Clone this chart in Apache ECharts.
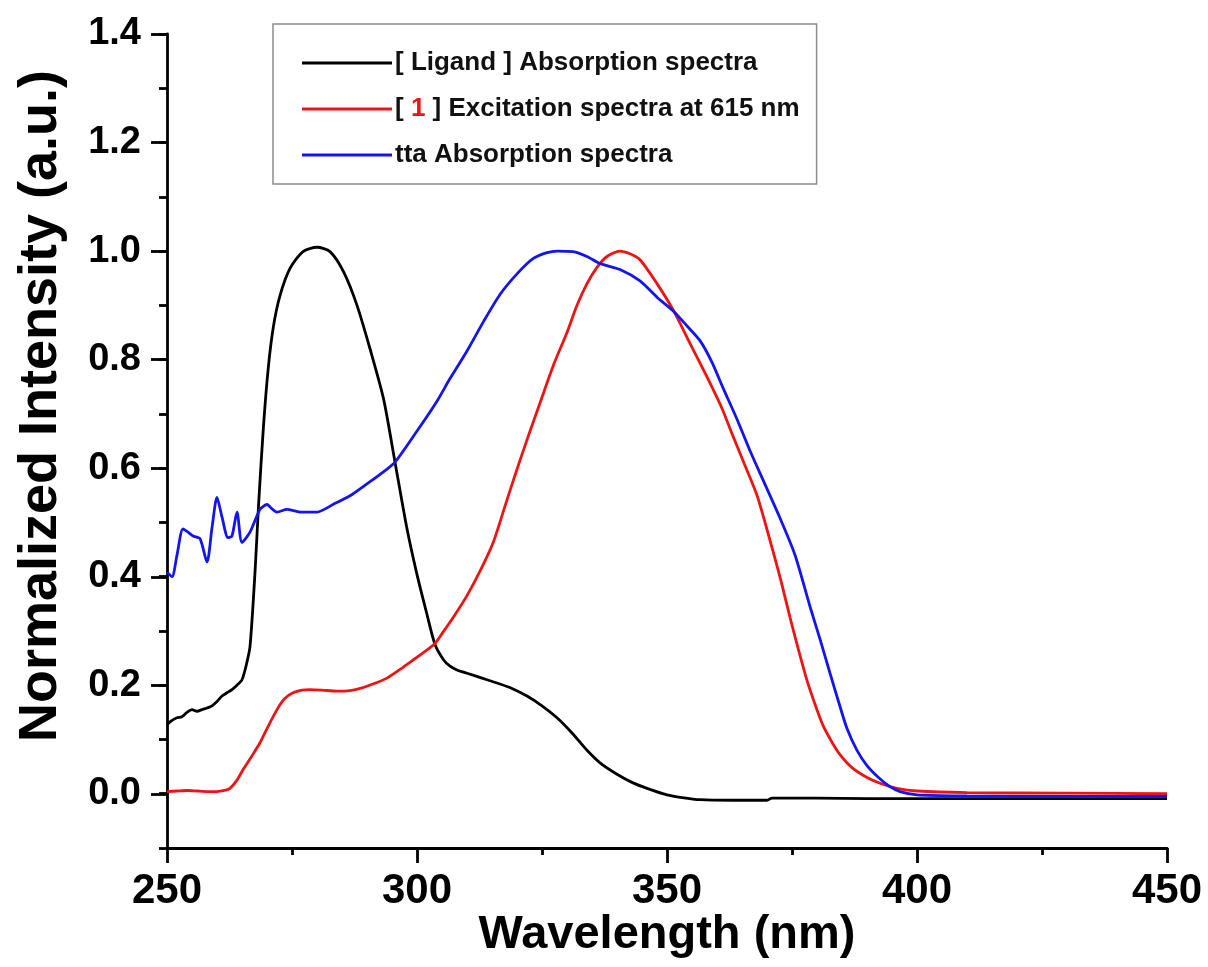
<!DOCTYPE html>
<html>
<head>
<meta charset="utf-8">
<script src="https://cdn.jsdelivr.net/npm/echarts@6/dist/echarts.min.js"></script>
<style>
  html, body { margin: 0; padding: 0; background: #ffffff; }
  #chart { width: 1208px; height: 967px; }
</style>
</head>
<body>
<div id="chart"></div>
<script>
// Wavelength (nm) and normalized intensity for each spectrum
const ligandWl = [250, 251, 252, 253, 254, 255, 256, 257, 258, 259, 260, 261, 262, 263, 264, 265, 265.8, 266.6, 267.6, 268.3, 269.3, 270.3, 271.3, 272.6, 274.6, 277.2, 280, 282.6, 285.3, 288, 290.6, 293.3, 295.6, 297.9, 299.9, 301.9, 303.6, 305.3, 306.6, 308, 310, 313, 316, 319, 322, 325, 328, 331, 334, 336.6, 340, 343.2, 346, 350, 353, 356.6, 363, 370, 371, 380, 390, 400, 420, 450];
const ligandAbs = [0.127, 0.135, 0.14, 0.142, 0.15, 0.155, 0.152, 0.155, 0.158, 0.162, 0.17, 0.18, 0.186, 0.192, 0.2, 0.21, 0.235, 0.271, 0.408, 0.53, 0.678, 0.789, 0.862, 0.918, 0.968, 0.999, 1.007, 0.999, 0.962, 0.9, 0.82, 0.728, 0.611, 0.493, 0.408, 0.334, 0.275, 0.247, 0.235, 0.228, 0.222, 0.213, 0.204, 0.194, 0.18, 0.162, 0.14, 0.112, 0.08, 0.057, 0.036, 0.02, 0.01, -0.002, -0.007, -0.011, -0.012, -0.012, -0.008, -0.008, -0.009, -0.009, -0.009, -0.009];

const exciteWl = [250, 252, 254, 256, 258, 260, 261.5, 262.6, 264, 265.2, 267, 268.6, 270, 272, 273.5, 275.2, 277, 278.6, 281, 284, 286.6, 289, 292, 294, 296.6, 299, 301, 303.6, 305, 307.6, 310, 312.6, 315.2, 317.6, 320, 322.3, 324.6, 327.3, 330, 332, 334, 336, 338, 340.6, 342.6, 344.6, 348, 351.2, 354.6, 358, 361, 363.2, 365.6, 368, 369.6, 371.2, 373, 374.6, 376.3, 378, 379.6, 381.2, 383, 384.6, 387, 390, 393, 396, 400, 410, 430, 450];
const exciteInt = [0.004, 0.005, 0.006, 0.005, 0.004, 0.004, 0.006, 0.01, 0.025, 0.044, 0.07, 0.094, 0.12, 0.155, 0.175, 0.186, 0.191, 0.192, 0.191, 0.189, 0.19, 0.195, 0.205, 0.213, 0.229, 0.245, 0.258, 0.277, 0.295, 0.33, 0.365, 0.41, 0.462, 0.53, 0.598, 0.66, 0.72, 0.79, 0.85, 0.9, 0.94, 0.97, 0.99, 1.0, 0.995, 0.984, 0.94, 0.892, 0.83, 0.768, 0.71, 0.659, 0.605, 0.55, 0.5, 0.447, 0.385, 0.325, 0.265, 0.209, 0.165, 0.126, 0.095, 0.072, 0.048, 0.03, 0.018, 0.01, 0.005, 0.002, 0.001, 0.0];

const ttaWl = [250, 251, 252, 253.2, 254.2, 255.2, 256.6, 258, 259, 260, 261, 262.2, 263, 264, 265, 266.6, 268.6, 270, 271, 272, 274, 276.6, 280, 283.2, 286.6, 290, 293.3, 295.6, 299.9, 303.9, 306.6, 310, 313.3, 316.6, 320, 323.2, 326, 328, 331.2, 334, 336.6, 340.6, 344.6, 348, 351.2, 354, 356.6, 359, 361.2, 364, 366.6, 369.6, 372.6, 375.6, 378.6, 380.6, 382.6, 384.3, 386, 388, 390, 392.3, 394.6, 396.6, 400, 410, 430, 450];
const ttaAbs = [0.408, 0.40, 0.44, 0.488, 0.482, 0.475, 0.47, 0.427, 0.49, 0.546, 0.51, 0.472, 0.475, 0.519, 0.463, 0.482, 0.524, 0.533, 0.525, 0.519, 0.524, 0.519, 0.519, 0.533, 0.549, 0.571, 0.593, 0.611, 0.667, 0.722, 0.765, 0.816, 0.87, 0.92, 0.958, 0.986, 0.997, 1.0, 0.999, 0.99, 0.977, 0.966, 0.945, 0.915, 0.89, 0.862, 0.835, 0.795, 0.748, 0.69, 0.632, 0.57, 0.508, 0.44, 0.345, 0.285, 0.222, 0.17, 0.12, 0.08, 0.052, 0.03, 0.013, 0.004, -0.002, -0.004, -0.005, -0.005];

const seriesNames = ['[ Ligand ] Absorption spectra', '[ 1 ] Excitation spectra at 615 nm', 'tta Absorption spectra'];
const seriesColors = ['#000000', '#ee1414', '#1414ee'];
const xTicks = [250, 300, 350, 400, 450];
const yTicks = [0.0, 0.2, 0.4, 0.6, 0.8, 1.0, 1.2, 1.4];

const FONT = '"Liberation Sans", Arial, Helvetica, sans-serif';

function zip(xs, ys) { return xs.map((x, i) => [x, ys[i]]); }

const chart = echarts.init(document.getElementById('chart'), null, { renderer: 'canvas' });

const lineSeries = [
  zip(ligandWl, ligandAbs),
  zip(exciteWl, exciteInt),
  zip(ttaWl, ttaAbs)
].map((data, i) => ({
  name: seriesNames[i],
  type: 'line',
  xAxisIndex: 0,
  yAxisIndex: 0,
  data: data,
  symbol: 'none',
  showSymbol: false,
  smooth: 0.25,
  lineStyle: { color: seriesColors[i], width: 2.8 },
  itemStyle: { color: seriesColors[i] },
  z: 2 + i
}));

chart.setOption({
  animation: false,
  backgroundColor: '#ffffff',
  grid: [
    // plotting area, spans -0.1 .. 1.4
    { left: 167, right: 41, top: 34, bottom: 119, containLabel: false, outerBoundsMode: 'none' },
    // labelled major-tick axis, spans 0.0 .. 1.4
    { left: 167, right: 41, top: 34, bottom: 173, containLabel: false, outerBoundsMode: 'none' }
  ],
  legend: {
    orient: 'vertical',
    left: 273,
    top: 24,
    padding: [26, 17, 16, 29],
    itemGap: 20,
    itemWidth: 90,
    itemHeight: 3,
    icon: 'rect',
    borderColor: '#8c8c8c',
    borderWidth: 1.5,
    backgroundColor: '#ffffff',
    data: seriesNames,
    formatter: function (name) {
      if (name === seriesNames[1]) {
        return '[ {red|1} ] Excitation spectra at 615 nm';
      }
      return name;
    },
    textStyle: {
      fontFamily: FONT,
      fontSize: 26,
      fontWeight: 'bold',
      color: '#111111',
      lineHeight: 26,
      padding: [0, 0, 0, -2],
      rich: {
        red: { fontFamily: FONT, fontSize: 26, fontWeight: 'bold', color: '#ee1414', lineHeight: 26 }
      }
    }
  },
  xAxis: [
    {
      type: 'value',
      gridIndex: 0,
      min: 250,
      max: 450,
      interval: 50,
      name: 'Wavelength (nm)',
      nameLocation: 'middle',
      nameGap: 64,
      nameMoveOverlap: false,
      nameTextStyle: { fontFamily: FONT, fontSize: 47, fontWeight: 'bold', color: '#000' },
      axisLine: { show: true, onZero: false, lineStyle: { color: '#000', width: 2.8 } },
      axisTick: { show: true, inside: false, length: 15, lineStyle: { color: '#000', width: 2.8 } },
      minorTick: { show: true, splitNumber: 2, length: 7, lineStyle: { color: '#000', width: 2.8 } },
      axisLabel: {
        margin: 22,
        fontFamily: FONT, fontSize: 42, fontWeight: 'bold', color: '#000',
        formatter: v => (xTicks.indexOf(v) >= 0 ? String(v) : '')
      },
      splitLine: { show: false }
    },
    {
      type: 'value',
      gridIndex: 1,
      min: 250,
      max: 450,
      show: false
    }
  ],
  yAxis: [
    {
      // axis line with a tick every 0.1
      type: 'value',
      gridIndex: 0,
      min: -0.1,
      max: 1.4,
      interval: 0.1,
      axisLine: { show: true, onZero: false, lineStyle: { color: '#000', width: 2.8 } },
      axisTick: { show: true, inside: false, length: 8, lineStyle: { color: '#000', width: 2.8 } },
      axisLabel: { show: false },
      splitLine: { show: false }
    },
    {
      // labelled major ticks every 0.2 from 0.0
      type: 'value',
      gridIndex: 1,
      min: 0,
      max: 1.4,
      interval: 0.2,
      name: 'Normalized Intensity (a.u.)',
      nameLocation: 'middle',
      nameGap: 99,
      nameMoveOverlap: false,
      nameTextStyle: { fontFamily: FONT, fontSize: 54, fontWeight: 'bold', color: '#000', padding: [0, 0, 0, 16] },
      axisLine: { show: false },
      axisTick: { show: true, inside: false, length: 16, lineStyle: { color: '#000', width: 2.8 } },
      axisLabel: {
        margin: 26,
        fontFamily: FONT, fontSize: 38, fontWeight: 'bold', color: '#000',
        formatter: v => {
          const t = yTicks.find(y => Math.abs(y - v) < 1e-6);
          return t === undefined ? '' : t.toFixed(1);
        }
      },
      splitLine: { show: false }
    }
  ],
  series: lineSeries
});
</script>
</body>
</html>
